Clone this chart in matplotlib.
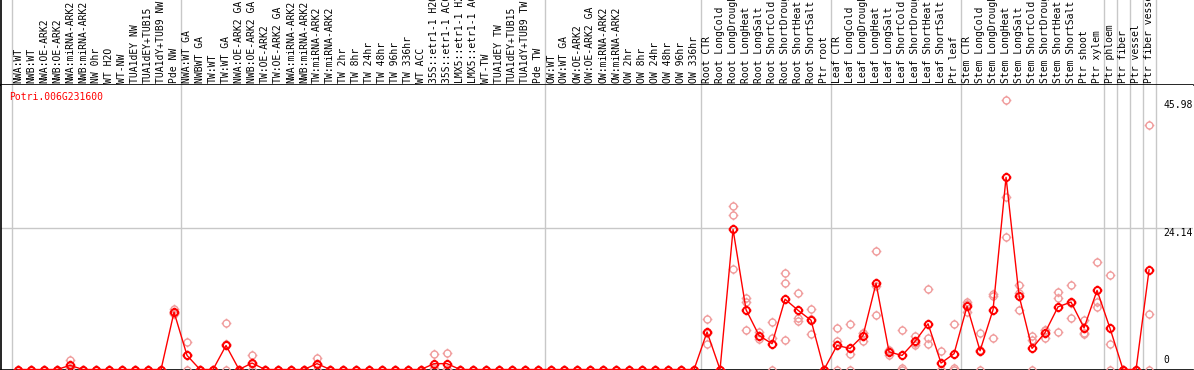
import numpy as np
import matplotlib
matplotlib.use("Agg")
import matplotlib.pyplot as plt
from matplotlib.path import Path
import matplotlib.transforms as mtransforms

gene = "Potri.006G231600"

samples = [
    "NWA:WT", "NWB:WT", "NWA:OE-ARK2", "NWB:OE-ARK2", "NWA:miRNA-ARK2", "NWB:miRNA-ARK2",
    "NW 0hr", "WT H2O", "WT-NW", "TUA1dEY NW", "TUA1dEY+TUB15", "TUA1dY+TUB9 NW", "Pde NW",
    "NWA:WT GA", "NWBWT GA", "TW:WT", "TW:WT GA", "NWA:OE-ARK2 GA", "NWB:OE-ARK2 GA",
    "TW:OE-ARK2", "TW:OE-ARK2 GA", "NWA:miRNA-ARK2", "NWB:miRNA-ARK2", "TW:miRNA-ARK2",
    "TW:miRNA-ARK2", "TW 2hr", "TW 8hr", "TW 24hr", "TW 48hr", "TW 96hr", "TW 336hr",
    "WT ACC", "35S::etr1-1 H2O", "35S::etr1-1 ACC", "LMX5::etr1-1 H2O", "LMX5::etr1-1 ACC",
    "WT-TW", "TUA1dEY TW", "TUA1dEY+TUB15", "TUA1dY+TUB9 TW", "Pde TW",
    "OW:WT", "OW:WT GA", "OW:OE-ARK2", "OW:OE-ARK2 GA", "OW:miRNA-ARK2", "OW:miRNA-ARK2",
    "OW 2hr", "OW 8hr", "OW 24hr", "OW 48hr", "OW 96hr", "OW 336hr",
    "Root CTR", "Root LongCold", "Root LongDrought", "Root LongHeat", "Root LongSalt",
    "Root ShortCold", "Root ShortDrought", "Root ShortHeat", "Root ShortSalt", "Ptr root",
    "Leaf CTR", "Leaf LongCold", "Leaf LongDrought", "Leaf LongHeat", "Leaf LongSalt",
    "Leaf ShortCold", "Leaf ShortDrought", "Leaf ShortHeat", "Leaf ShortSalt", "Ptr leaf",
    "Stem CTR", "Stem LongCold", "Stem LongDrought", "Stem LongHeat", "Stem LongSalt",
    "Stem ShortCold", "Stem ShortDrought", "Stem ShortHeat", "Stem ShortSalt", "Ptr shoot",
    "Ptr xylem", "Ptr phloem", "Ptr fiber", "Ptr vessel", "Ptr fiber vessel",
]

# mean expression per sample
mean_vals = [
    0, 0, 0, 0, 0.7, 0, 0, 0, 0, 0, 0, 0, 9.8,
    2.4, 0, 0, 4.1, 0, 1.1, 0, 0, 0, 0, 1.0, 0, 0, 0, 0, 0, 0, 0,
    0, 1.0, 1.0, 0, 0, 0, 0, 0, 0, 0,
    0, 0, 0, 0, 0, 0, 0, 0, 0, 0, 0, 0,
    6.4, 0, 23.9, 10.2, 5.8, 4.4, 12.0, 10.1, 8.4, 0,
    4.1, 3.6, 5.8, 14.7, 3.0, 2.4, 4.8, 7.8, 1.1, 2.7,
    10.8, 3.2, 10.2, 32.8, 12.6, 3.6, 6.3, 10.7, 11.5, 7.1,
    13.5, 7.0, 0, 0, 17.0,
]

# replicates
rep1 = [
    0, 0, 0, 0, 1.7, 0, 0, 0, 0, 0, 0, 0, 10.4,
    4.7, 0, 0, 8.0, 0, 2.4, 0, 0, 0, 0, 2.0, 0, 0, 0, 0, 0, 0, 0,
    0, 2.7, 2.9, 0, 0, 0, 0, 0, 0, 0,
    0, 0, 0, 0, 0, 0, 0, 0, 0, 0, 0, 0,
    8.6, 0, 27.9, 12.2, 6.4, 8.1, 16.5, 13.1, 10.4, 0,
    7.1, 7.8, 6.3, 20.3, 3.4, 6.8, 5.8, 13.7, 3.2, 7.8,
    11.5, 6.3, 12.9, 45.98, 14.5, 5.7, 6.8, 13.2, 14.5, 8.5,
    18.3, 16.2, 0, 0, 41.7,
]
rep2 = [
    0, 0, 0, 0, 0.3, 0, 0, 0, 0, 0, 0, 0, 9.6,
    2.4, 0, 0, 4.3, 0, 1.0, 0, 0, 0, 0, 1.0, 0, 0, 0, 0, 0, 0, 0,
    0, 0.3, 0.1, 0, 0, 0, 0, 0, 0, 0,
    0, 0, 0, 0, 0, 0, 0, 0, 0, 0, 0, 0,
    6.2, 0, 26.4, 11.5, 5.8, 5.3, 14.8, 8.8, 8.6, 0,
    4.8, 2.7, 6.2, 14.2, 3.1, 0.3, 4.5, 5.4, 0, 0.3,
    11.1, 3.4, 12.6, 29.4, 13.1, 5.1, 6.7, 12.2, 11.3, 6.3,
    11.5, 4.4, 0, 0, 9.4,
]
rep3 = [
    0, 0, 0, 0, 0, 0, 0, 0, 0, 0, 0, 0, 9.4,
    0, 0, 0, 0, 0, 0, 0, 0, 0, 0, 0, 0, 0, 0, 0, 0, 0, 0,
    0, 0, 0, 0, 0, 0, 0, 0, 0, 0,
    0, 0, 0, 0, 0, 0, 0, 0, 0, 0, 0, 0,
    4.4, 0, 17.2, 6.8, 5.2, 0, 5.1, 8.2, 6.1, 0,
    0, 0, 4.9, 9.3, 2.5, 0, 4.1, 4.4, 0, 0,
    9.8, 0, 5.3, 22.6, 10.2, 0, 5.3, 6.4, 8.8, 6.0,
    10.6, 0, 0, 0, 0,
]

group_breaks = [-0.5, 12.5, 40.5, 52.5, 62.5, 72.5, 83.5, 84.5, 85.5, 86.5, 87.5]
tick_vals = [45.98, 24.14]

W, H = 1194, 370
fig = plt.figure(figsize=(W / 100, H / 100), dpi=100)
mono = "DejaVu Sans Mono"

top_px = 85
x0 = -1.31
x1 = 90.38
ax_lab = fig.add_axes([1 / W, (H - top_px) / H, (W - 2) / W, top_px / H])
ax = fig.add_axes([1 / W, 0.5 / H, (W - 2) / W, (H - top_px - 0.5) / H], sharex=ax_lab)

x = np.arange(len(samples))

# ring marker (polygon) with four short ticks outside
t = np.linspace(0, 2 * np.pi, 33)
ring = Path(np.column_stack([np.cos(t), np.sin(t)]))
ticks = []
for dx, dy in [(0, 1), (0, -1), (1, 0), (-1, 0)]:
    ticks.append(Path([[dx, dy], [dx * 1.4, dy * 1.4]], [Path.MOVETO, Path.LINETO]))
tick_marker = Path.make_compound_path(ring, *ticks)

for r in (rep1, rep2, rep3):
    ax.plot(x, r, linestyle="none", marker=tick_marker, ms=7, mfc="none",
            mec="#f09c9c", mew=1.0, zorder=3, clip_on=False)
ax.plot(x, mean_vals, color="red", lw=1.0, marker=tick_marker, ms=7, mfc="none",
        mec="red", mew=1.4, zorder=4, clip_on=False)

for b in group_breaks:
    ax.axvline(b, color="#c8c8c8", lw=1.0, zorder=1)
    ax_lab.axvline(b, color="#c8c8c8", lw=1.0, zorder=1)
ax.axhline(tick_vals[1], color="#c8c8c8", lw=1.0, zorder=1)

ax.set_xlim(x0, x1)
ax.set_ylim(0, 48.55)
ax_lab.set_ylim(0, 1)

for a in (ax, ax_lab):
    a.set_xticks([])
    a.set_yticks([])
    a.spines["right"].set_visible(False)
    a.spines["top"].set_visible(False)
    a.spines["left"].set_linewidth(1.2)
    a.spines["bottom"].set_linewidth(1.2)

for i, s in enumerate(samples):
    ax_lab.text(i, 0.02, s, rotation=90, ha="center", va="bottom",
                fontsize=7, family=mono, color="black", clip_on=False)

ax.text(8.3 / (W - 2), 1 - 7.5 / (H - top_px), gene, transform=ax.transAxes,
        ha="left", va="top", fontsize=7, family=mono, color="red")

lab_x = (1163 - 1) / (W - 2)
trans = mtransforms.blended_transform_factory(ax.transAxes, ax.transData)
for v in tick_vals:
    ax.text(lab_x, v, f"{v:.2f}", transform=trans, ha="left", va="top",
            fontsize=7, family=mono, color="black")
ax.annotate("0", xy=(lab_x, 0), xycoords=trans, xytext=(0, 3),
            textcoords="offset points", ha="left", va="bottom",
            fontsize=7, family=mono, color="black")

fig.savefig("out.png", dpi=100)
